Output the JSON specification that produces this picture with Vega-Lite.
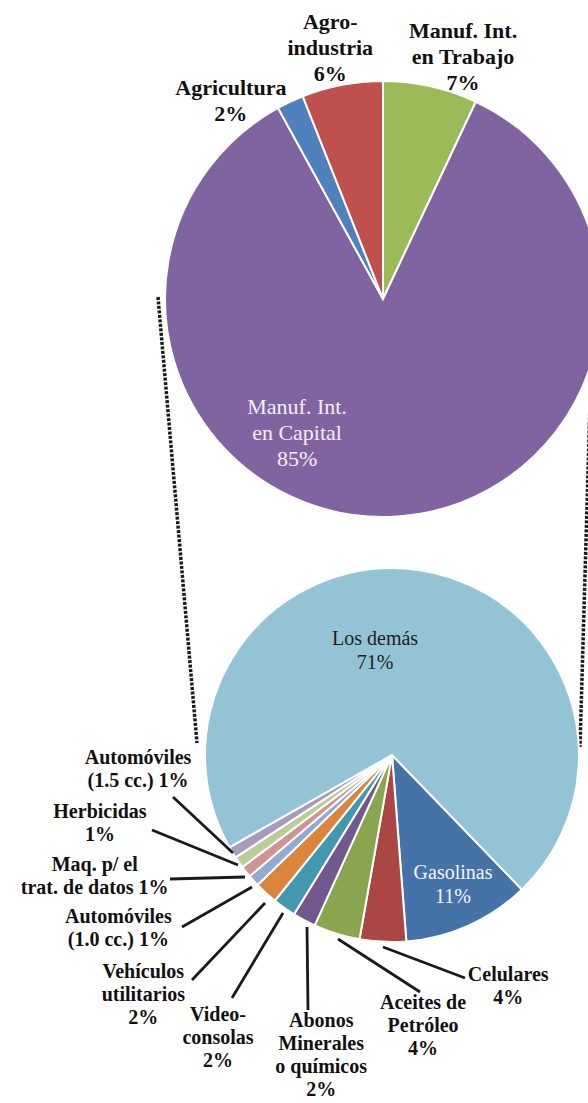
{
  "$schema": "https://vega.github.io/schema/vega-lite/v6.json",
  "usermeta": {"embedOptions": {"actions": false}},
  "width": 588,
  "height": 1103,
  "padding": 0,
  "autosize": {"type": "none"},
  "background": "#ffffff",
  "config": {"view": {"stroke": null}},
  "datasets": {
    "top": [
      {"name": "Manuf. Int. en Trabajo", "pct": 7, "order": 1, "label": "Manuf. Int.\nen Trabajo\n7%"},
      {"name": "Manuf. Int. en Capital", "pct": 85, "order": 2, "label": "Manuf. Int.\nen Capital\n85%"},
      {"name": "Agricultura", "pct": 2, "order": 3, "label": "Agricultura\n2%"},
      {"name": "Agro-industria", "pct": 6, "order": 4, "label": "Agro-\nindustria\n6%"}
    ],
    "bottom": [
      {"name": "Gasolinas", "pct": 11, "order": 1, "label": "Gasolinas\n11%"},
      {"name": "Celulares", "pct": 4, "order": 2, "label": "Celulares\n4%"},
      {"name": "Aceites de Petróleo", "pct": 4, "order": 3, "label": "Aceites de\nPetróleo\n4%"},
      {"name": "Abonos Minerales o químicos", "pct": 2, "order": 4, "label": "Abonos\nMinerales\no químicos\n2%"},
      {"name": "Video-consolas", "pct": 2, "order": 5, "label": "Video-\nconsolas\n2%"},
      {"name": "Vehículos utilitarios", "pct": 2, "order": 6, "label": "Vehículos\nutilitarios\n2%"},
      {"name": "Automóviles (1.0 cc.)", "pct": 1, "order": 7, "label": "Automóviles\n(1.0 cc.) 1%"},
      {"name": "Maq. p/ el trat. de datos", "pct": 1, "order": 8, "label": "Maq. p/ el\ntrat. de datos 1%"},
      {"name": "Herbicidas", "pct": 1, "order": 9, "label": "Herbicidas\n1%"},
      {"name": "Automóviles (1.5 cc.)", "pct": 1, "order": 10, "label": "Automóviles\n(1.5 cc.) 1%"},
      {"name": "Los demás", "pct": 71, "order": 11, "label": "Los demás\n71%"}
    ],
    "one": [{"k": 1}]
  },
  "layer": [
    {
      "data": {"name": "one"},
      "mark": {"type": "rule", "stroke": "#1a1a1a", "strokeWidth": 3.5, "strokeDash": [3, 1.5]},
      "encoding": {"x": {"value": 158}, "y": {"value": 297}, "x2": {"value": 197}, "y2": {"value": 743}}
    },
    {
      "data": {"name": "one"},
      "mark": {"type": "rule", "stroke": "#1a1a1a", "strokeWidth": 3.5, "strokeDash": [3, 1.5]},
      "encoding": {"x": {"value": 593}, "y": {"value": 300}, "x2": {"value": 580}, "y2": {"value": 747}}
    },
    {
      "data": {"name": "top"},
      "mark": {"type": "arc", "outerRadius": 218, "x": 383, "y": 299, "stroke": "#ffffff", "strokeWidth": 2},
      "encoding": {
        "theta": {"field": "pct", "type": "quantitative", "stack": true},
        "order": {"field": "order", "type": "quantitative"},
        "color": {
          "field": "name", "type": "nominal", "legend": null,
          "scale": {
            "domain": ["Manuf. Int. en Trabajo", "Manuf. Int. en Capital", "Agricultura", "Agro-industria"],
            "range": ["#9BBB59", "#8064A2", "#4F81BD", "#C0504D"]
          }
        }
      }
    },
    {
      "data": {"name": "bottom"},
      "mark": {"type": "arc", "outerRadius": 187, "x": 392, "y": 755, "stroke": "#ffffff", "strokeWidth": 2},
      "encoding": {
        "theta": {"field": "pct", "type": "quantitative", "stack": true, "scale": {"range": [2.3736, 8.6568]}},
        "order": {"field": "order", "type": "quantitative"},
        "color": {
          "field": "name", "type": "nominal", "legend": null,
          "scale": {
            "domain": ["Gasolinas", "Celulares", "Aceites de Petróleo", "Abonos Minerales o químicos", "Video-consolas", "Vehículos utilitarios", "Automóviles (1.0 cc.)", "Maq. p/ el trat. de datos", "Herbicidas", "Automóviles (1.5 cc.)", "Los demás"],
            "range": ["#4572A7", "#AA4643", "#89A54E", "#71588F", "#4198AF", "#DB843D", "#93A9CF", "#D19392", "#B9CD96", "#A99BBD", "#93C4D6"]
          }
        }
      }
    },
    {"data": {"name": "one"}, "mark": {"type": "rule", "stroke": "#1a1a1a", "strokeWidth": 2.8}, "encoding": {"x": {"value": 173}, "y": {"value": 797}, "x2": {"value": 233}, "y2": {"value": 853}}},
    {"data": {"name": "one"}, "mark": {"type": "rule", "stroke": "#1a1a1a", "strokeWidth": 2.8}, "encoding": {"x": {"value": 152}, "y": {"value": 830}, "x2": {"value": 238}, "y2": {"value": 865}}},
    {"data": {"name": "one"}, "mark": {"type": "rule", "stroke": "#1a1a1a", "strokeWidth": 2.8}, "encoding": {"x": {"value": 170}, "y": {"value": 879}, "x2": {"value": 245}, "y2": {"value": 877}}},
    {"data": {"name": "one"}, "mark": {"type": "rule", "stroke": "#1a1a1a", "strokeWidth": 2.8}, "encoding": {"x": {"value": 182}, "y": {"value": 927}, "x2": {"value": 252}, "y2": {"value": 887}}},
    {"data": {"name": "one"}, "mark": {"type": "rule", "stroke": "#1a1a1a", "strokeWidth": 2.8}, "encoding": {"x": {"value": 192}, "y": {"value": 980}, "x2": {"value": 265}, "y2": {"value": 903}}},
    {"data": {"name": "one"}, "mark": {"type": "rule", "stroke": "#1a1a1a", "strokeWidth": 2.8}, "encoding": {"x": {"value": 232}, "y": {"value": 998}, "x2": {"value": 283}, "y2": {"value": 913}}},
    {"data": {"name": "one"}, "mark": {"type": "rule", "stroke": "#1a1a1a", "strokeWidth": 2.8}, "encoding": {"x": {"value": 308}, "y": {"value": 1010}, "x2": {"value": 307}, "y2": {"value": 927}}},
    {"data": {"name": "one"}, "mark": {"type": "rule", "stroke": "#1a1a1a", "strokeWidth": 2.8}, "encoding": {"x": {"value": 420}, "y": {"value": 992}, "x2": {"value": 338}, "y2": {"value": 939}}},
    {"data": {"name": "one"}, "mark": {"type": "rule", "stroke": "#1a1a1a", "strokeWidth": 2.8}, "encoding": {"x": {"value": 465}, "y": {"value": 978}, "x2": {"value": 383}, "y2": {"value": 947}}},
    {
      "data": {"name": "top"},
      "transform": [{"filter": {"field": "order", "oneOf": [1, 3, 4]}}],
      "mark": {"type": "text", "x": 383, "y": 299, "font": "Liberation Serif", "fontSize": 22, "fontWeight": "bold", "lineBreak": "\n", "lineHeight": 26, "align": "center", "baseline": "middle", "color": "#111111"},
      "encoding": {
        "theta": {"field": "order", "type": "quantitative", "scale": {"domain": [1, 2, 3, 4], "range": [0.2899, 3.814, 5.658, 6.095], "zero": false, "nice": false}},
        "radius": {"field": "order", "type": "quantitative", "scale": {"type": "linear", "domain": [1, 2, 3, 4], "range": [280, 138, 260, 282], "zero": false, "nice": false}},
        "text": {"field": "label"}
      }
    },
    {
      "data": {"name": "top"},
      "transform": [{"filter": {"field": "order", "oneOf": [2]}}],
      "mark": {"type": "text", "x": 383, "y": 299, "font": "Liberation Serif", "fontSize": 22, "lineBreak": "\n", "lineHeight": 26, "align": "center", "baseline": "middle", "color": "#F2EEF7"},
      "encoding": {
        "theta": {"field": "order", "type": "quantitative", "scale": {"domain": [1, 2, 3, 4], "range": [0.2899, 3.814, 5.658, 6.095], "zero": false, "nice": false}},
        "radius": {"field": "order", "type": "quantitative", "scale": {"type": "linear", "domain": [1, 2, 3, 4], "range": [280, 138, 260, 282], "zero": false, "nice": false}},
        "text": {"field": "label"}
      }
    },
    {
      "data": {"name": "bottom"},
      "transform": [{"filter": {"field": "order", "range": [2, 10]}}],
      "mark": {"type": "text", "x": 392, "y": 755, "font": "Liberation Serif", "fontSize": 20, "fontWeight": "bold", "lineBreak": "\n", "lineHeight": 23, "align": "center", "baseline": "middle", "color": "#111111"},
      "encoding": {
        "theta": {"field": "order", "type": "quantitative", "scale": {"domain": [2, 3, 4, 5, 6, 7, 8, 9, 10], "range": [2.656, 3.017, 3.402, 3.731, 3.995, 4.178, 4.358, 4.520, 4.700], "zero": false, "nice": false}},
        "radius": {"field": "order", "type": "quantitative", "scale": {"type": "linear", "domain": [2, 3, 4, 5, 6, 7, 8, 9, 10], "range": [249, 250, 275, 313, 330, 318, 317, 297.5, 254], "zero": false, "nice": false}},
        "text": {"field": "label"}
      }
    },
    {
      "data": {"name": "bottom"},
      "transform": [{"filter": {"field": "order", "oneOf": [1, 11]}}],
      "mark": {"type": "text", "x": 392, "y": 755, "font": "Liberation Serif", "fontSize": 20, "lineBreak": "\n", "lineHeight": 24, "align": "center", "baseline": "middle"},
      "encoding": {
        "theta": {"field": "order", "type": "quantitative", "scale": {"domain": [1, 11], "range": [2.665, 6.138], "zero": false, "nice": false}},
        "radius": {"field": "order", "type": "quantitative", "scale": {"type": "linear", "domain": [1, 11], "range": [133, 117], "zero": false, "nice": false}},
        "color": {"field": "name", "type": "nominal", "legend": null, "scale": {"domain": ["Gasolinas", "Los demás"], "range": ["#F4F6FA", "#1E1E1E"]}},
        "text": {"field": "label"}
      }
    }
  ],
  "resolve": {"scale": {"theta": "independent", "radius": "independent", "color": "independent"}}
}
